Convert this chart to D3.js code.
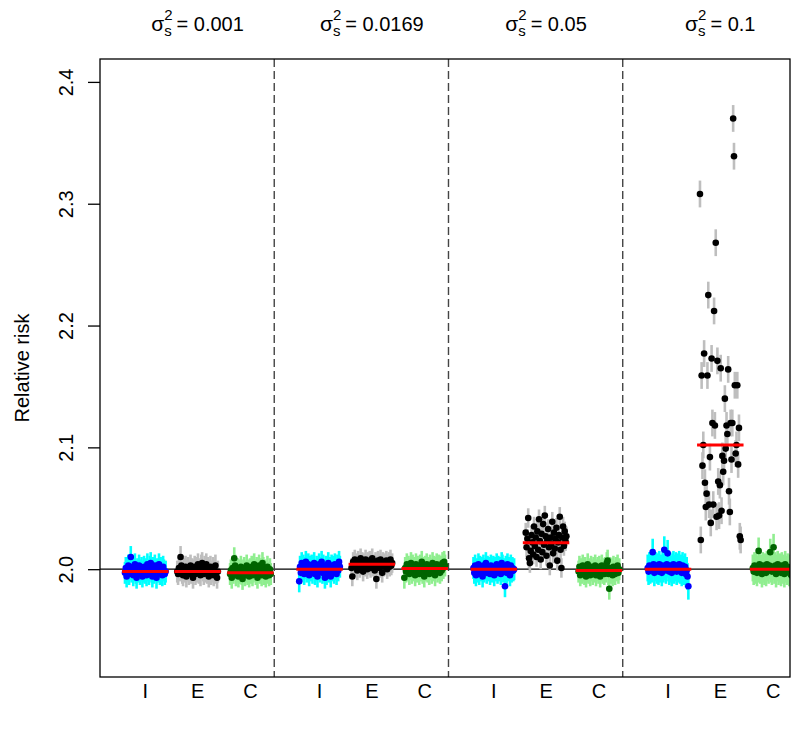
<!DOCTYPE html>
<html>
<head>
<meta charset="utf-8">
<script src="https://cdn.jsdelivr.net/npm/d3@7"></script>
<style>
  body { margin: 0; background: #fff; }
  text { font-family: "Liberation Sans", Arial, Helvetica, sans-serif; }
</style>
</head>
<body>
<div class="canvas"></div>
<script>
// panel titles (sigma_s^2 values) and group labels
const sigmaLabels = ['0.001', '0.0169', '0.05', '0.1'];
const groupLabels = ['I', 'E', 'C'];

// estimated relative risks, 50 replicates per group, in left-to-right order
const p1I = [1.997, 2.001, 1.994, 1.999, 2.003, 1.996, 2.000, 2.010, 1.998, 2.002, 1.995, 1.999, 2.004, 1.997, 1.993, 2.000, 1.998, 2.003, 1.996, 1.999, 2.001, 1.994, 1.998, 2.002, 1.997, 2.000, 1.995, 2.004, 1.999, 1.996, 2.002, 2.005, 1.998, 1.994, 2.001, 1.997, 2.003, 1.999, 1.993, 2.000, 1.998, 2.004, 1.996, 2.001, 1.997, 1.995, 2.002, 1.999, 1.996, 1.998];
const p1E = [1.998, 1.996, 2.001, 1.999, 2.010, 2.003, 1.997, 1.995, 2.000, 1.998, 2.002, 1.994, 1.999, 2.001, 1.996, 1.998, 2.003, 1.997, 2.000, 1.993, 1.999, 2.002, 1.996, 2.001, 1.998, 2.004, 1.997, 2.000, 1.995, 2.003, 2.005, 1.999, 1.996, 2.002, 1.998, 2.004, 1.997, 2.001, 1.994, 1.999, 2.002, 1.996, 1.998, 2.001, 1.995, 1.999, 2.003, 1.997, 1.993, 1.998];
const p1C = [1.996, 1.999, 1.993, 2.001, 1.997, 2.009, 2.003, 1.995, 1.998, 2.000, 1.994, 1.999, 1.997, 2.002, 1.996, 1.992, 1.999, 2.001, 1.995, 1.998, 2.003, 1.996, 1.999, 1.994, 2.000, 1.997, 2.002, 1.995, 1.998, 2.004, 1.999, 1.996, 2.001, 1.993, 1.998, 2.003, 1.997, 2.000, 1.995, 2.005, 2.001, 1.996, 1.999, 1.994, 1.998, 2.002, 1.997, 1.995, 2.000, 1.996];

const p2I = [1.990, 2.002, 1.997, 2.005, 1.999, 2.003, 1.996, 2.001, 2.006, 1.998, 2.000, 2.004, 1.995, 2.002, 1.999, 2.003, 1.997, 2.001, 2.005, 1.996, 1.999, 2.002, 1.994, 2.000, 2.004, 1.998, 2.001, 2.006, 1.997, 2.003, 1.999, 1.993, 2.002, 1.996, 2.000, 2.005, 1.998, 2.001, 1.994, 2.003, 1.999, 2.002, 1.997, 2.004, 2.000, 1.996, 2.003, 1.999, 2.006, 2.002];
const p2E = [2.001, 1.994, 2.006, 2.003, 2.008, 2.002, 2.005, 1.999, 2.007, 2.004, 2.001, 2.009, 2.003, 2.006, 1.998, 2.005, 2.002, 2.008, 2.004, 2.000, 2.006, 2.003, 2.007, 2.001, 2.005, 2.009, 2.002, 2.004, 1.999, 2.006, 1.992, 2.003, 2.007, 2.005, 2.001, 2.008, 2.004, 1.997, 2.006, 2.002, 2.005, 2.003, 2.007, 2.000, 2.004, 2.006, 2.002, 2.008, 2.003, 2.005];
const p2C = [1.993, 2.001, 1.998, 2.004, 1.999, 2.002, 1.996, 2.000, 2.005, 1.997, 2.003, 1.999, 2.001, 1.995, 2.004, 1.998, 2.002, 2.000, 1.996, 2.003, 1.999, 2.006, 1.997, 2.001, 1.994, 2.002, 1.999, 2.004, 1.998, 2.001, 1.996, 2.003, 2.000, 1.997, 2.005, 1.999, 2.002, 1.995, 2.001, 2.004, 1.998, 2.000, 2.003, 1.997, 2.002, 1.999, 2.005, 2.001, 2.006, 2.003];

const p3I = [2.001, 1.997, 2.003, 1.995, 2.000, 1.998, 2.004, 1.996, 2.002, 1.999, 2.001, 1.994, 2.003, 1.998, 2.000, 2.005, 1.997, 2.002, 1.999, 2.001, 1.996, 2.003, 1.998, 2.000, 2.002, 1.995, 2.001, 1.999, 2.004, 1.997, 2.002, 1.999, 2.001, 1.996, 2.005, 2.003, 1.998, 2.000, 1.986, 2.002, 1.997, 2.004, 1.999, 2.001, 1.995, 2.003, 1.998, 2.001, 1.999, 2.000];
const p3E = [2.030, 2.018, 2.025, 2.042, 2.009, 2.005, 2.015, 2.028, 2.022, 2.012, 2.035, 2.019, 2.026, 2.010, 2.031, 2.016, 2.041, 2.023, 2.008, 2.029, 2.014, 2.037, 2.020, 2.044, 2.027, 2.011, 2.024, 2.033, 2.018, 2.003, 2.026, 2.021, 2.039, 2.013, 2.030, 2.017, 2.025, 2.034, 2.007, 2.022, 2.028, 2.043, 2.016, 2.001, 2.026, 2.035, 2.019, 2.031, 2.023, 2.027];
const p3C = [1.998, 2.002, 1.995, 2.000, 1.997, 2.003, 1.999, 1.996, 2.001, 1.994, 1.998, 2.004, 1.997, 2.000, 1.995, 2.002, 1.999, 1.996, 2.001, 1.998, 2.003, 1.995, 1.999, 2.001, 1.997, 2.002, 1.994, 1.999, 2.003, 1.997, 2.000, 1.996, 2.001, 1.998, 2.005, 2.007, 1.996, 1.984, 2.001, 1.997, 2.000, 1.995, 2.002, 1.998, 1.996, 2.001, 1.999, 2.003, 1.997, 2.000];

const p4I = [2.001, 1.998, 2.003, 1.999, 2.002, 2.000, 2.014, 2.004, 1.997, 2.001, 2.003, 1.999, 2.002, 1.998, 2.004, 2.000, 2.001, 1.997, 2.003, 2.000, 2.016, 2.002, 1.999, 2.004, 2.013, 2.001, 1.998, 2.003, 2.000, 1.997, 2.002, 2.004, 1.999, 2.001, 2.003, 1.998, 2.002, 2.000, 2.004, 1.999, 2.001, 1.997, 2.003, 2.000, 1.998, 2.002, 1.996, 1.999, 1.994, 1.986];
const p4E = [2.308, 2.024, 2.159, 2.085, 2.102, 2.177, 2.071, 2.051, 2.062, 2.159, 2.225, 2.053, 2.092, 2.038, 2.173, 2.120, 2.053, 2.212, 2.118, 2.268, 2.043, 2.171, 2.072, 2.044, 2.069, 2.165, 2.048, 2.093, 2.080, 2.089, 2.140, 2.099, 2.118, 2.111, 2.164, 2.064, 2.047, 2.120, 2.090, 2.120, 2.370, 2.339, 2.151, 2.095, 2.102, 2.151, 2.086, 2.116, 2.027, 2.024];
const p4C = [2.001, 1.998, 2.003, 1.999, 2.002, 1.997, 2.000, 2.015, 2.004, 1.999, 2.001, 1.996, 2.003, 2.000, 1.998, 2.002, 1.997, 2.004, 2.001, 1.999, 2.003, 2.014, 2.000, 1.998, 2.002, 2.018, 1.999, 2.003, 1.996, 2.001, 2.004, 1.998, 2.000, 2.002, 1.997, 2.003, 1.999, 2.001, 1.996, 2.004, 2.000, 1.998, 2.002, 1.999, 1.997, 2.001, 1.995, 1.999, 1.994, 1.987];

// red reference line per group (I, E, C) for each panel
const refI = [1.998, 2.000, 2.000, 2.000];
const refE = [1.998, 2.004, 2.0216, 2.102];
const refC = [1.997, 2.0005, 1.999, 2.000];

// interval half-widths per group
const ciI = [0.009, 0.009, 0.009, 0.011];
const ciE = [0.009, 0.008, 0.008, 0.011];
const ciC = [0.009, 0.009, 0.009, 0.011];

const panels = [
  [p1I, p1E, p1C],
  [p2I, p2E, p2C],
  [p3I, p3E, p3C],
  [p4I, p4E, p4C]
];
const refs = [refI, refE, refC];
const cis = [ciI, ciE, ciC];

const barColors = ['#00ffff', '#bebebe', '#90ee90'];
const dotColors = ['#0000ff', '#000000', '#006400'];
const groupCenter = [0.78, 1.68, 2.59];  // offset inside each panel (x units)
const spread = 0.35;

const width = 800, height = 730;
const box = { left: 100, right: 790, top: 59, bottom: 677 };

const svg = d3.select('.canvas').append('svg')
  .attr('width', width)
  .attr('height', height);

const x = d3.scaleLinear().domain([0, 11.88]).range([box.left, box.right]);
const y = d3.scaleLinear().domain([1.9115, 2.4188]).range([box.bottom, box.top]);

svg.append('defs').append('clipPath').attr('id', 'plotclip')
  .append('rect')
  .attr('x', box.left).attr('y', box.top)
  .attr('width', box.right - box.left).attr('height', box.bottom - box.top);

const plot = svg.append('g').attr('clip-path', 'url(#plotclip)');

// reference line at RR = 2
plot.append('line')
  .attr('x1', box.left).attr('x2', box.right)
  .attr('y1', y(2)).attr('y2', y(2))
  .attr('stroke', '#000').attr('stroke-width', 1.3);

// panel separators
plot.selectAll('.sep').data([3, 6, 9]).enter().append('line')
  .attr('class', 'sep')
  .attr('x1', d => x(d)).attr('x2', d => x(d))
  .attr('y1', box.top).attr('y2', box.bottom)
  .attr('stroke', '#444').attr('stroke-width', 1.4)
  .attr('stroke-dasharray', '8,4');

panels.forEach((groups, p) => {
  groups.forEach((vals, g) => {
    const n = vals.length;
    const c = p * 3 + groupCenter[g];
    const px = d3.scaleLinear().domain([0, n - 1]).range([c - spread, c + spread]);
    const h = cis[g][p];
    const grp = plot.append('g');

    grp.selectAll('line').data(vals).enter().append('line')
      .attr('x1', (d, i) => x(px(i))).attr('x2', (d, i) => x(px(i)))
      .attr('y1', d => y(d - h)).attr('y2', d => y(d + h))
      .attr('stroke', barColors[g]).attr('stroke-width', 2.6);

    grp.selectAll('circle').data(vals).enter().append('circle')
      .attr('cx', (d, i) => x(px(i)))
      .attr('cy', d => y(d))
      .attr('r', 3.3)
      .attr('fill', dotColors[g]);
  });
});

// red reference segments
panels.forEach((groups, p) => {
  groups.forEach((vals, g) => {
    const c = p * 3 + groupCenter[g];
    plot.append('line')
      .attr('x1', x(c - 0.4)).attr('x2', x(c + 0.4))
      .attr('y1', y(refs[g][p])).attr('y2', y(refs[g][p]))
      .attr('stroke', '#ff0000').attr('stroke-width', 3);
  });
});

// box
svg.append('rect')
  .attr('x', box.left).attr('y', box.top)
  .attr('width', box.right - box.left).attr('height', box.bottom - box.top)
  .attr('fill', 'none').attr('stroke', '#000').attr('stroke-width', 1.3);

// y axis
const yAxis = d3.axisLeft(y)
  .tickValues([2.0, 2.1, 2.2, 2.3, 2.4])
  .tickFormat(d3.format('.1f'))
  .tickSize(12)
  .tickSizeOuter(0);

const yAxisGroup = svg.append('g')
  .attr('transform', `translate(${box.left}, 0)`)
  .call(yAxis);
yAxisGroup.select('.domain').remove();
yAxisGroup.selectAll('line').attr('stroke', '#000').attr('stroke-width', 1.3);
yAxisGroup.selectAll('text')
  .attr('transform', 'rotate(-90)')
  .attr('x', 0).attr('y', -27).attr('dy', 0)
  .attr('text-anchor', 'middle')
  .attr('font-size', 20)
  .attr('fill', '#000');

svg.append('text')
  .attr('transform', `translate(29, ${(box.top + box.bottom) / 2}) rotate(-90)`)
  .attr('text-anchor', 'middle')
  .attr('font-size', 20)
  .text('Relative risk');

// group labels under each panel
const labelData = [];
panels.forEach((groups, p) => {
  groupLabels.forEach((lab, g) => labelData.push({ lab, pos: p * 3 + groupCenter[g] }));
});
svg.selectAll('.glab').data(labelData).enter().append('text')
  .attr('class', 'glab')
  .attr('x', d => x(d.pos))
  .attr('y', 698)
  .attr('text-anchor', 'middle')
  .attr('font-size', 20)
  .text(d => d.lab);

// panel titles: sigma_s^2 = value
sigmaLabels.forEach((val, p) => {
  const cx = x(p * 3 + groupCenter[1]);
  const t = svg.append('g');
  const sig = t.append('text').attr('font-size', 21).attr('y', 31).text('σ');
  const sup = t.append('text').attr('font-size', 15).attr('y', 20).text('2');
  const sub = t.append('text').attr('font-size', 15).attr('y', 36).text('s');
  const rest = t.append('text').attr('font-size', 20).attr('y', 31).text('= ' + val);
  const w1 = sig.node().getComputedTextLength();
  const w2 = Math.max(sup.node().getComputedTextLength(), sub.node().getComputedTextLength());
  const w3 = rest.node().getComputedTextLength();
  const total = w1 + w2 + 4 + w3;
  const x0 = cx - total / 2;
  sig.attr('x', x0);
  sup.attr('x', x0 + w1);
  sub.attr('x', x0 + w1);
  rest.attr('x', x0 + w1 + w2 + 4);
});
</script>
</body>
</html>
